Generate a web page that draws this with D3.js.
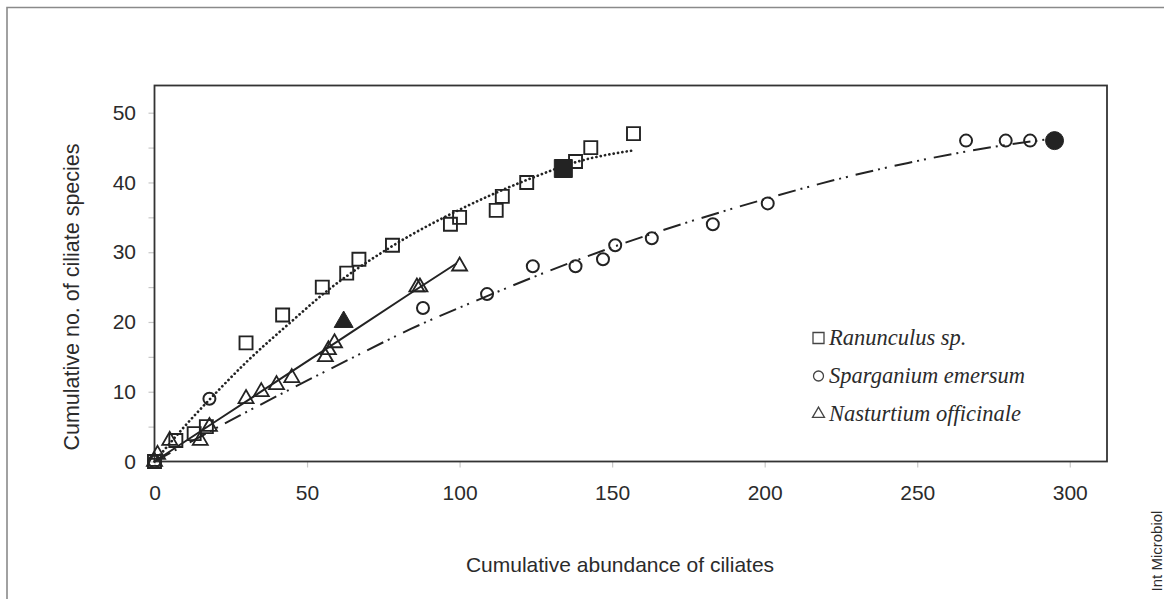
<!DOCTYPE html>
<html>
<head>
<meta charset="utf-8">
<script src="https://cdn.jsdelivr.net/npm/d3@7"></script>
<style>
  html, body { margin: 0; padding: 0; background: #fff; }
  svg text { font-family: "Liberation Sans", Arial, sans-serif; fill: #2b2b2b; }
  .legend text { font-family: "Liberation Serif", "Times New Roman", serif; font-style: italic; }
</style>
</head>
<body>
<svg id="chart" width="1164" height="599"></svg>
<script>
// ── Data ─────────────────────────────────────────────────
const ranX = [0, 7, 13, 17, 30, 42, 55, 63, 67, 78, 97, 100, 112, 114, 122, 138, 143, 157];
const ranY = [0, 3, 4, 5, 17, 21, 25, 27, 29, 31, 34, 35, 36, 38, 40, 43, 45, 47];
const ranFilled = [134, 42];

const spaX = [0, 18, 88, 109, 124, 138, 147, 151, 163, 183, 201, 266, 279, 287];
const spaY = [0, 9, 22, 24, 28, 28, 29, 31, 32, 34, 37, 46, 46, 46];
const spaFilled = [295, 46];

const nasX = [0, 1, 5, 15, 18, 30, 35, 40, 45, 56, 57, 59, 86, 87, 100];
const nasY = [0, 1, 3, 3, 5, 9, 10, 11, 12, 15, 16, 17, 25, 25, 28];
const nasFilled = [62, 20];

// trend lines
const ranTrendX = [0, 10, 21.6, 30, 45.5, 55, 78, 100, 124, 138, 157];
const ranTrendY = [0, 5.1, 10.5, 14.2, 20.3, 23.9, 30.9, 36.1, 40.7, 42.9, 44.6];
const spaTrendX = [0, 28, 65, 84, 109, 124, 150, 177, 200, 218, 247, 263, 275, 295];
const spaTrendY = [0, 6.6, 14.9, 19.0, 23.7, 26.4, 30.7, 34.6, 37.6, 39.8, 42.8, 44.2, 45.1, 46.3];
const nasTrendX = [0, 21.6, 54.4, 82.8, 99];
const nasTrendY = [0, 6.2, 15.6, 23.8, 28.4];

const xTicks = [0, 50, 100, 150, 200, 250, 300];
const yTicks = [0, 5, 10, 15, 20, 25, 30, 35, 40, 45, 50];

const legendNames = ['Ranunculus sp.', 'Sparganium emersum', 'Nasturtium officinale'];

// ── Layout ──────────────────────────────────────────────
const svg = d3.select('#chart');
const plot = { left: 154.5, top: 85.5, right: 1107, bottom: 461.5 };
const ink = '#232323';

const x = d3.scaleLinear().domain([0, 312.2]).range([plot.left, plot.right]);
const y = d3.scaleLinear().domain([0, 53.9]).range([plot.bottom, plot.top]);

// outer frame (top + left edge of the figure panel)
svg.append('path')
    .attr('d', 'M7,599 L7,7.5 L1164,7.5')
    .attr('fill', 'none')
    .attr('stroke', '#8a8a8a')
    .attr('stroke-width', 1.6);

// axes
const yAxis = d3.axisLeft(y)
    .tickValues(yTicks)
    .tickSize(6)
    .tickPadding(12.5)
    .tickFormat(d => d % 10 === 0 ? d : '');
const gy = svg.append('g').attr('transform', `translate(${plot.left},0)`).call(yAxis);

const xAxis = d3.axisBottom(x)
    .tickValues(xTicks)
    .tickSize(6)
    .tickPadding(18)
    .tickFormat(d => d);
const gx = svg.append('g').attr('transform', `translate(0,${plot.bottom})`).call(xAxis);

[gx, gy].forEach(g => {
    g.select('.domain').remove();
    g.selectAll('.tick line').attr('stroke', '#c8c8c8').attr('stroke-width', 1.2);
    g.selectAll('.tick text')
        .style('font-size', '21px')
        .style('font-family', '"Liberation Sans", Arial, sans-serif')
        .attr('fill', '#2b2b2b');
});

// plot box
svg.append('rect')
    .attr('x', plot.left)
    .attr('y', plot.top)
    .attr('width', plot.right - plot.left)
    .attr('height', plot.bottom - plot.top)
    .attr('fill', 'none')
    .attr('stroke', '#333')
    .attr('stroke-width', 1.8);

// axis titles
svg.append('text')
    .attr('transform', 'translate(78.5,297) rotate(-90)')
    .attr('text-anchor', 'middle')
    .style('font-size', '21.5px')
    .text('Cumulative no. of ciliate species');

svg.append('text')
    .attr('x', 620)
    .attr('y', 572)
    .attr('text-anchor', 'middle')
    .style('font-size', '21px')
    .text('Cumulative abundance of ciliates');

svg.append('text')
    .attr('transform', 'translate(1161.5,551) rotate(-90)')
    .attr('text-anchor', 'middle')
    .style('font-size', '15px')
    .text('Int Microbiol');

// ── Trend lines ─────────────────────────────────────────
const zip = (xs, ys) => xs.map((v, i) => [v, ys[i]]);
const line = d3.line()
    .x(d => x(d[0]))
    .y(d => y(d[1]))
    .curve(d3.curveMonotoneX);

const lines = svg.append('g').attr('fill', 'none').attr('stroke', ink);

lines.append('path')
    .attr('d', line(zip(ranTrendX, ranTrendY)))
    .attr('stroke-width', 2.7)
    .attr('stroke-linecap', 'round')
    .attr('stroke-dasharray', '0.1,4.3');

lines.append('path')
    .attr('d', line(zip(spaTrendX, spaTrendY)))
    .attr('stroke-width', 2)
    .attr('stroke-dasharray', '18,5,2,5,2,8');

lines.append('path')
    .attr('d', line(zip(nasTrendX, nasTrendY)))
    .attr('stroke-width', 2);

// ── Markers ─────────────────────────────────────────────
const triArea = side => Math.sqrt(3) / 4 * side * side;

function drawMarkers(xs, ys, type, size, sw) {
    svg.append('g')
        .selectAll('path')
        .data(zip(xs, ys))
        .enter()
        .append('path')
        .attr('transform', d => `translate(${x(d[0])},${y(d[1])})`)
        .attr('d', d3.symbol().type(type).size(size))
        .attr('fill', 'none')
        .attr('stroke', ink)
        .attr('stroke-width', sw);
}

function drawFilled(pt, type, size) {
    svg.append('path')
        .attr('transform', `translate(${x(pt[0])},${y(pt[1])})`)
        .attr('d', d3.symbol().type(type).size(size))
        .attr('fill', ink)
        .attr('stroke', ink)
        .attr('stroke-width', 1);
}

drawMarkers(ranX, ranY, d3.symbolSquare, 13 * 13, 1.9);
drawMarkers(spaX, spaY, d3.symbolCircle, Math.PI * 6 * 6, 2);
drawMarkers(nasX, nasY, d3.symbolTriangle, triArea(15), 1.8);

drawFilled(ranFilled, d3.symbolSquare, 18 * 18);
drawFilled(spaFilled, d3.symbolCircle, Math.PI * 9 * 9);
drawFilled(nasFilled, d3.symbolTriangle, triArea(19));

// ── Legend ──────────────────────────────────────────────
const legend = svg.append('g').attr('class', 'legend');
const legendTypes = [d3.symbolSquare, d3.symbolCircle, d3.symbolTriangle];
const legendSizes = [11 * 11, Math.PI * 5 * 5, triArea(12)];

legendNames.forEach((name, i) => {
    const cy = 338 + i * 38;
    legend.append('path')
        .attr('transform', `translate(818.5,${cy})`)
        .attr('d', d3.symbol().type(legendTypes[i]).size(legendSizes[i]))
        .attr('fill', 'none')
        .attr('stroke', '#444')
        .attr('stroke-width', 1.3);
    legend.append('text')
        .attr('x', 829)
        .attr('y', cy + 6.5)
        .style('font-size', '22.5px')
        .text(name);
});
</script>
</body>
</html>
